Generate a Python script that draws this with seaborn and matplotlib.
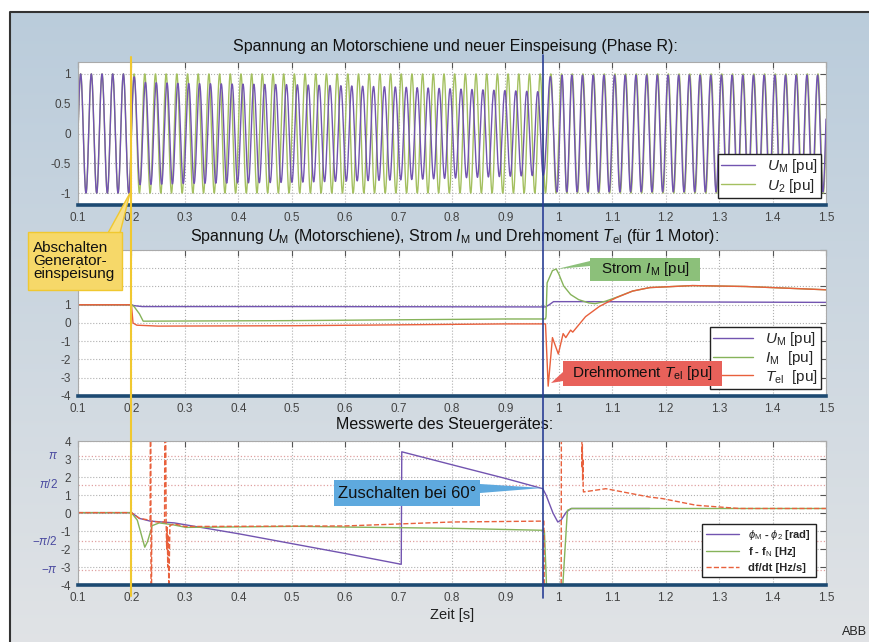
import numpy as np
import matplotlib
matplotlib.use("Agg")
import matplotlib.pyplot as plt
import matplotlib.transforms as mtrans
from matplotlib.patches import Polygon, Rectangle
from matplotlib.lines import Line2D
import seaborn as sns

# ---- data ----
# top: amplitude and phase shift of U_M relative to the 50 Hz grid voltage U_2
amp_t = [0.1, 0.2, 0.215, 0.3, 0.5, 0.7, 0.9, 0.972, 0.985, 1.5]
amp_v = [1.0, 1.0, 0.86, 0.84, 0.82, 0.78, 0.72, 0.70, 0.98, 0.98]
f_grid = 50.0

# bottom: phi_M - phi_2 [rad]
phi_t = [0.1, 0.2, 0.215, 0.235, 0.28, 0.4, 0.5, 0.6, 0.705, 0.706, 0.8, 0.9, 0.97, 0.976,
         0.989, 0.998, 1.004, 1.014, 1.023, 1.17]
phi_v = [0.02, 0.02, -0.3, -0.45, -0.55, -1.15, -1.7, -2.25, -2.85, 3.4, 2.68, 1.92, 1.35, 1.0,
         0.0, -0.5, -0.4, 0.05, 0.25, 0.25]

# bottom: f - f_N [Hz]
df_t = [0.1, 0.2, 0.211, 0.225, 0.23, 0.239, 0.252, 0.277, 0.302, 0.514, 0.6, 0.8, 0.97, 0.973,
        0.982, 1.0, 1.007, 1.016, 1.024, 1.5]
df_v = [0.02, 0.02, -0.4, -1.9, -1.6, -0.7, -0.55, -0.65, -0.8, -0.74, -0.78, -0.85, -0.96, -1.0,
        -8.0, -8.0, -4.2, 0.15, 0.25, 0.25]

# bottom: df/dt [Hz/s]
dfdt_t = [0.1, 0.2, 0.215, 0.235, 0.236, 0.237, 0.238, 0.25, 0.262, 0.263, 0.265, 0.266, 0.267,
          0.268, 0.269, 0.27, 0.272, 0.28, 0.3, 0.6, 0.8, 0.972, 0.974, 1.004, 1.005, 1.042,
          1.043, 1.0435, 1.044, 1.0445, 1.045, 1.0455, 1.046, 1.088, 1.169, 1.194, 1.257, 1.338, 1.5]
dfdt_v = [0.02, 0.02, -0.3, -0.4, 12.0, -12.0, -0.45, -0.5, -0.5, 12.0, -0.6, -2.0, -0.8, -3.0,
          -1.2, -4.5, -0.7, -0.6, -0.75, -0.72, -0.5, -0.45, -12.0, -12.0, 12.0, 12.0,
          4.2, 2.5, 3.8, 1.8, 3.0, 1.5, 1.17, 1.35, 0.89, 0.8, 0.43, 0.25, 0.25]

# middle: U_M, I_M, T_el [pu]
um_t = [0.1, 0.2, 0.205, 0.22, 0.5, 0.975, 0.982, 0.99, 1.05, 1.5]
um_v = [1.0, 1.0, 0.95, 0.9, 0.9, 0.88, 1.0, 1.17, 1.17, 1.13]
im_t = [0.1, 0.2, 0.205, 0.215, 0.222, 0.5, 0.9, 0.975, 0.976, 0.978, 0.988, 0.995, 1.0, 1.009,
        1.022, 1.037, 1.056, 1.068, 1.087, 1.107, 1.138, 1.17, 1.25, 1.35, 1.5]
im_v = [1.0, 1.0, 0.9, 0.5, 0.1, 0.13, 0.22, 0.22, 0.35, 2.2, 2.87, 2.96, 2.68, 2.03,
        1.56, 1.28, 1.1, 1.06, 1.19, 1.4, 1.75, 1.94, 2.05, 2.0, 1.82]
tel_t = [0.1, 0.2, 0.203, 0.21, 0.25, 0.5, 0.9, 0.975, 0.98, 0.988, 0.999, 1.008, 1.013, 1.022,
         1.026, 1.05, 1.076, 1.107, 1.138, 1.17, 1.25, 1.35, 1.5]
tel_v = [1.0, 1.0, 0.0, -0.12, -0.17, -0.15, -0.05, -0.05, -3.46, -0.8, -1.7, -0.58, -0.8, -0.39,
         -0.5, 0.35, 0.91, 1.38, 1.75, 1.94, 2.05, 2.0, 1.82]

t_off = 0.2      # Abschalten Generatoreinspeisung
t_on = 0.971     # Zuschalten

xticks = np.round(np.arange(0.1, 1.51, 0.1), 1)
xticklabels = ["0.1", "0.2", "0.3", "0.4", "0.5", "0.6", "0.7", "0.8", "0.9", "1",
               "1.1", "1.2", "1.3", "1.4", "1.5"]
mid_yticklabels = ["-4", "-3", "-2", "-1", "0", "1", "", "", ""]  # 2..4 sit under the yellow box

# sine waves (time grid only for drawing the carrier)
t = np.linspace(0.1, 1.5, 7001)
phase = np.interp(t, phi_t, np.unwrap(phi_v))
u2 = np.sin(2 * np.pi * f_grid * t)
um = np.interp(t, amp_t, amp_v) * np.sin(2 * np.pi * f_grid * t + phase)

# ---- style ----
sns.set_style("white")
plt.rcParams["font.family"] = ["Liberation Sans", "DejaVu Sans"]
plt.rcParams["mathtext.fontset"] = "custom"
plt.rcParams["mathtext.rm"] = "Liberation Sans"
plt.rcParams["mathtext.it"] = "Liberation Sans:italic"
plt.rcParams["axes.unicode_minus"] = False

W, H = 869, 642
fig = plt.figure(figsize=(W / 100, H / 100), dpi=100)
fig.patch.set_facecolor("white")


def fx(x):
    return x / W


def fy(y):
    return 1 - y / H


def px(pts):
    return [(fx(a), fy(b)) for a, b in pts]


# background gradient
bg = fig.add_axes([0, 0, 1, 1], zorder=-10)
grad = np.linspace(0, 1, 256)[:, None]
cols = np.array([0.73, 0.80, 0.86])[None, :] * (1 - grad) + np.array([0.88, 0.89, 0.90])[None, :] * grad
img = np.repeat(cols[:, None, :], 2, axis=1)
bg.imshow(img, extent=[fx(10), 1, 0, fy(12)], aspect="auto", origin="upper")
bg.plot([fx(10), fx(10), 1], [0, fy(12), fy(12)], color="#333333", lw=1.5)
bg.set_xlim(0, 1)
bg.set_ylim(0, 1)
bg.axis("off")

purple = "#7254b0"
green = "#a4c060"
green2 = "#86b35a"
red = "#e8603c"
navy = "#1d4a72"


def style_axes(ax, ylim, yticks):
    ax.set_xlim(0.1, 1.5)
    ax.set_ylim(*ylim)
    ax.set_xticks(xticks)
    ax.set_xticklabels(xticklabels)
    ax.set_yticks(yticks)
    ax.set_facecolor("white")
    ax.grid(True, ls=":", color="#b0b0b0", lw=0.8)
    ax.tick_params(direction="in", length=4, top=True, right=True, labelsize=8.5,
                   labelcolor="#444444", color="#555555", pad=5)
    for s in ["top", "right", "left"]:
        ax.spines[s].set_color("#aaaaaa")
        ax.spines[s].set_linewidth(0.8)
    ax.spines["bottom"].set_color(navy)
    ax.spines["bottom"].set_linewidth(2.6)
    ax.set_xlabel("")
    ax.set_ylabel("")


# axes positions in pixels
x0, x1 = 78, 826
ax1 = fig.add_axes([fx(x0), fy(205), fx(x1 - x0), (205 - 62) / H])
ax2 = fig.add_axes([fx(x0), fy(396), fx(x1 - x0), (396 - 250) / H])
ax3 = fig.add_axes([fx(x0), fy(585), fx(x1 - x0), (585 - 441) / H])

# top panel
sns.lineplot(x=t, y=u2, ax=ax1, color=green, lw=1.0, estimator=None, sort=False, label=r"$U_2$ [pu]")
sns.lineplot(x=t, y=um, ax=ax1, color=purple, lw=1.0, estimator=None, sort=False,
             label=r"$U_\mathrm{M}$ [pu]")
style_axes(ax1, (-1.2, 1.2), [-1, -0.5, 0, 0.5, 1])
ax1.set_yticklabels(["-1", "-0.5", "0", "0.5", "1"])
h, l = ax1.get_legend_handles_labels()
ax1.legend([h[1], h[0]], [l[1], l[0]], loc="lower right", bbox_to_anchor=(0.993, 0.05),
           fontsize=11, frameon=True, fancybox=False, edgecolor="#222222", framealpha=1,
           borderpad=0.2, labelspacing=0.1, handlelength=2.2, borderaxespad=0)

# middle panel
sns.lineplot(x=um_t, y=um_v, ax=ax2, color=purple, lw=1.0, estimator=None, sort=False,
             label=r"$U_\mathrm{M}$ [pu]")
sns.lineplot(x=im_t, y=im_v, ax=ax2, color=green2, lw=1.0, estimator=None, sort=False,
             label=r"$I_\mathrm{M}$  [pu]")
sns.lineplot(x=tel_t, y=tel_v, ax=ax2, color=red, lw=1.0, estimator=None, sort=False,
             label=r"$T_\mathrm{el}$  [pu]")
style_axes(ax2, (-4, 4), range(-4, 5))
ax2.set_yticklabels(mid_yticklabels)
ax2.legend(loc="lower right", bbox_to_anchor=(0.993, 0.05), fontsize=11, frameon=True,
           fancybox=False, edgecolor="#222222", framealpha=1, borderpad=0.2,
           labelspacing=0.05, handlelength=2.6, borderaxespad=0)

# bottom panel
for yv in [np.pi, np.pi / 2, -np.pi / 2, -np.pi]:
    ax3.axhline(yv, ls=":", color="#e0a0a0", lw=0.9, zorder=0.5)
sns.lineplot(x=phi_t, y=phi_v, ax=ax3, color=purple, lw=1.0, estimator=None, sort=False,
             label=r"$\phi_\mathrm{M}$ - $\phi_2$ [rad]")
sns.lineplot(x=df_t, y=df_v, ax=ax3, color=green2, lw=1.0, estimator=None, sort=False,
             label=r"f - f$_\mathrm{N}$ [Hz]")
sns.lineplot(x=dfdt_t, y=dfdt_v, ax=ax3, color=red, lw=1.0, estimator=None, sort=False,
             linestyle="--", label="df/dt [Hz/s]")
style_axes(ax3, (-4, 4), range(-4, 5))
ax3.legend(loc="lower right", bbox_to_anchor=(0.986, 0.055), frameon=True,
           fancybox=False, edgecolor="#222222", framealpha=1, borderpad=0.4,
           labelspacing=0.3, handlelength=3.0, borderaxespad=0,
           prop={"weight": "bold", "size": 8})
ax3.set_xlabel("Zeit [s]", fontsize=10.5, color="#222222", labelpad=3)
trans = mtrans.blended_transform_factory(fig.transFigure, ax3.transData)
for lab, yv in [(r"$\pi$", np.pi), (r"$\pi/2$", np.pi / 2), (r"$-\pi/2$", -np.pi / 2), (r"$-\pi$", -np.pi)]:
    fig.text(fx(58), yv, lab, transform=trans, ha="right", va="center", fontsize=8.5,
             color="#4a4aa0")

# titles
fig.text(fx(455), fy(46), "Spannung an Motorschiene und neuer Einspeisung (Phase R):",
         ha="center", va="center", fontsize=11.5, color="#111111")
fig.text(fx(455), fy(237),
         r"Spannung $U_\mathrm{M}$ (Motorschiene), Strom $I_\mathrm{M}$ und Drehmoment $T_\mathrm{el}$ (für 1 Motor):",
         ha="center", va="center", fontsize=11.5, color="#111111")
fig.text(fx(445), fy(424), "Messwerte des Steuergerätes:", ha="center", va="center",
         fontsize=11.5, color="#111111")

# event lines across the figure
tr1 = mtrans.blended_transform_factory(ax1.transData, fig.transFigure)
fig.add_artist(Line2D([t_off, t_off], [fy(57), fy(596)], transform=tr1, color="#f0c830", lw=1.5, zorder=20))
fig.add_artist(Line2D([t_on, t_on], [fy(55), fy(598)], transform=tr1, color="#2a3f95", lw=1.2, zorder=20))

# callout boxes
ov = dict(transform=fig.transFigure, zorder=30)
fig.add_artist(Polygon(px([(108, 233), (120, 233), (130, 193)]), closed=True, fc="#f7e08a",
                       ec="#f0c830", lw=1.0, **ov))
fig.add_artist(Rectangle((fx(28), fy(290)), fx(94), 58 / H, fc="#f6d869", ec="#f0c830", lw=1.0, **ov))
fig.text(fx(33), fy(261), "Abschalten\nGenerator-\neinspeisung", ha="left", va="center",
         fontsize=11, linespacing=0.95, color="#111111", zorder=31)

fig.add_artist(Polygon(px([(590, 258), (700, 258), (700, 281), (590, 281), (590, 266),
                           (557, 269), (590, 261)]), closed=True, fc="#8cc07a", ec="none", **ov))
fig.text(fx(645), fy(269.5), r"Strom $I_\mathrm{M}$ [pu]", ha="center", va="center",
         fontsize=11, color="#111111", zorder=31)

fig.add_artist(Polygon(px([(563, 361), (722, 361), (722, 386), (563, 386), (563, 381),
                           (551, 383), (563, 372)]), closed=True, fc="#e8615a", ec="none", **ov))
fig.text(fx(642), fy(373.5), r"Drehmoment $T_\mathrm{el}$ [pu]", ha="center", va="center",
         fontsize=11, color="#111111", zorder=31)

fig.add_artist(Polygon(px([(334, 480), (480, 480), (480, 484), (543, 488), (480, 493),
                           (480, 506), (334, 506)]), closed=True, fc="#5ea9de", ec="none", **ov))
fig.text(fx(407), fy(493), "Zuschalten bei 60°", ha="center", va="center",
         fontsize=12, color="#111111", zorder=31)

fig.text(fx(855), fy(632), "ABB", ha="center", va="center", fontsize=9, color="#222222")

fig.savefig("out.png", dpi=100)
